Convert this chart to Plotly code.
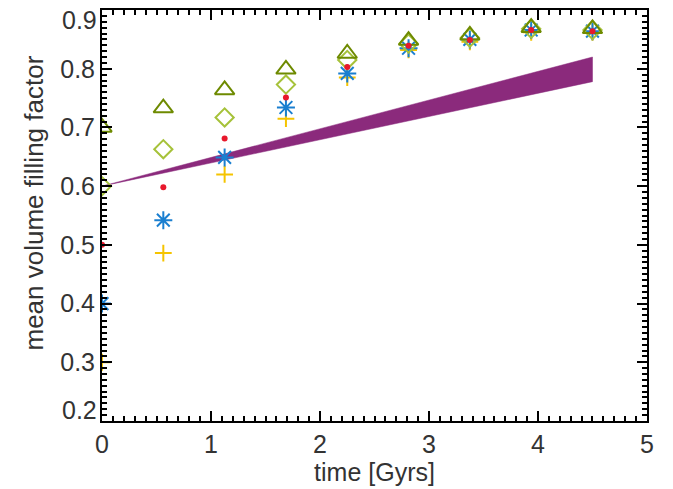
import plotly.graph_objects as go

time_gyr = [0.0, 0.5625, 1.125, 1.6875, 2.25, 2.8125, 3.375, 3.9375, 4.5]
ff_plus = [0.30, 0.486, 0.620, 0.715, 0.785, 0.832, 0.846, 0.862, 0.862]
ff_star = [0.40, 0.542, 0.649, 0.734, 0.792, 0.835, 0.850, 0.866, 0.864]
ff_diamond = [0.60, 0.663, 0.717, 0.773, 0.815, 0.843, 0.853, 0.868, 0.866]
ff_triangle = [0.70, 0.733, 0.764, 0.799, 0.826, 0.848, 0.857, 0.870, 0.868]
ff_dot = [0.50, 0.598, 0.681, 0.751, 0.803, 0.839, 0.849, 0.866, 0.864]

band_t = [0.0, 4.5]
band_lo = [0.600, 0.778]
band_hi = [0.600, 0.820]

x_ticks = [0, 1, 2, 3, 4, 5]
y_ticks = [0.2, 0.3, 0.4, 0.5, 0.6, 0.7, 0.8, 0.9]

FONT = "Liberation Sans, Arial, Helvetica, sans-serif"
TXT = "#333333"

fig = go.Figure()

fig.add_trace(go.Scatter(
    x=band_t + band_t[::-1], y=band_lo + band_hi[::-1],
    fill="toself", fillcolor="#8b2a7c", mode="lines",
    line=dict(width=0.5, color="#8b2a7c"), hoverinfo="skip", showlegend=False))

def add_markers(y, symbol, color, size, width=2):
    fig.add_trace(go.Scatter(
        x=time_gyr, y=y, mode="markers", showlegend=False,
        marker=dict(symbol=symbol, size=size, color=color,
                    line=dict(color=color, width=width))))

add_markers(ff_plus, "cross-thin-open", "#f5c400", 12)
add_markers(ff_star, "asterisk-open", "#1a7fd0", 15)
add_markers(ff_diamond, "diamond-open", "#a6c23a", 14)
add_markers(ff_triangle, "triangle-up-open", "#6e8a00", 17)
add_markers(ff_dot, "circle", "#e8182c", 6, width=0)

axis_common = dict(
    showgrid=False, zeroline=False, showline=True, linecolor="black",
    linewidth=2, mirror="ticks", ticks="inside", ticklen=10, tickwidth=2,
    tickcolor="black",
    tickfont=dict(family=FONT, size=25, color=TXT),
)

# end labels of the y axis are nudged inward, as in the original
y_text = [f"{v:.1f}" for v in y_ticks]
y_axis_text = ["" if i in (0, len(y_ticks) - 1) else t for i, t in enumerate(y_text)]

fig.update_xaxes(
    range=[-0.0001, 5.0001], tickvals=x_ticks, ticktext=[str(v) for v in x_ticks],
    minor=dict(dtick=0.1, ticks="inside", ticklen=5, tickwidth=1.5, tickcolor="black"),
    title=dict(text="time [Gyrs]", font=dict(family=FONT, size=25, color=TXT), standoff=4),
    **axis_common)
fig.update_yaxes(
    range=[0.1999, 0.9001], tickvals=y_ticks, ticktext=y_axis_text,
    minor=dict(dtick=0.01, ticks="inside", ticklen=5, tickwidth=1.5, tickcolor="black"),
    **axis_common)

for i, shift in ((len(y_ticks) - 1, -10), (0, 11)):
    fig.add_annotation(x=0, xref="paper", y=y_ticks[i], yref="y", text=y_text[i],
                       showarrow=False, xanchor="right", yanchor="middle",
                       xshift=-3, yshift=shift,
                       font=dict(family=FONT, size=25, color=TXT))

fig.add_annotation(x=0, xref="paper", y=0.5, yref="paper",
                   text="mean volume filling factor", textangle=-90,
                   showarrow=False, xanchor="center", yanchor="middle",
                   xshift=-69, yshift=12,
                   font=dict(family=FONT, size=26, color=TXT))

fig.update_layout(
    width=673, height=489,
    margin=dict(l=102, r=26, t=8, b=68),
    paper_bgcolor="white", plot_bgcolor="white",
)

fig.write_html("out.html")
